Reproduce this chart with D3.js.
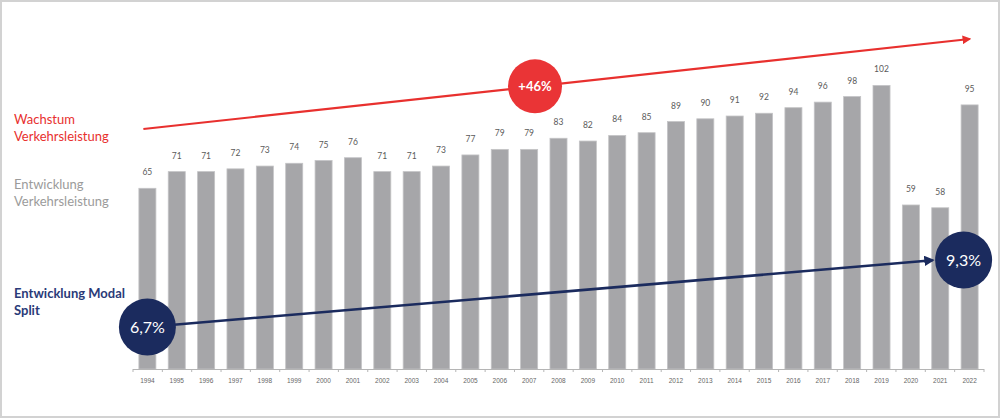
<!DOCTYPE html>
<html>
<head>
<meta charset="utf-8">
<script src="https://cdn.jsdelivr.net/npm/d3@7"></script>
<style>
  body { margin: 0; background: #fff; }
  svg { display: block; font-family: Lato, "Open Sans", sans-serif; }
  .frame { fill: none; stroke: #d2d2d2; stroke-width: 2; }
  .bar { fill: #a6a6a9; stroke: #c4c4c6; stroke-width: 0.8; }
  .val { font-size: 8.5px; fill: #5a5a5a; text-anchor: middle; }
  .axis path, .axis line { stroke: #b5b5b5; }
  .axis text { font-size: 6.5px; fill: #666; }
  .lbl { font-size: 13px; }
</style>
</head>
<body>
<svg id="chart" width="1002" height="420"></svg>
<script>
// Verkehrsleistung (index) per year
var years = [1994, 1995, 1996, 1997, 1998, 1999, 2000, 2001, 2002, 2003,
             2004, 2005, 2006, 2007, 2008, 2009, 2010, 2011, 2012, 2013,
             2014, 2015, 2016, 2017, 2018, 2019, 2020, 2021, 2022];
var values = [65, 71, 71, 72, 73, 74, 75, 76, 71, 71,
              73, 77, 79, 79, 83, 82, 84, 85, 89, 90,
              91, 92, 94, 96, 98, 102, 59, 58, 95];

// modal split start and end
var splitYears = [1994, 2022];
var splitLabels = ["6,7%", "9,3%"];
var growthLabel = "+46%";

var svg = d3.select("#chart");
var width = 1002, height = 420;

svg.append("rect")
	.attr("class", "frame")
	.attr("x", 1).attr("y", 1)
	.attr("width", width - 4).attr("height", height - 4);

var x = d3.scaleBand()
	.domain(years)
	.range([133, 984])
	.paddingInner(0.42)
	.paddingOuter(0.2);

var y = d3.scaleLinear()
	.domain([0, 100])
	.range([369, 91]);

var cx = function(yr) { return x(yr) + x.bandwidth() / 2; };

// bars
svg.append("g")
	.selectAll("rect.bar")
	.data(values)
	.enter()
	.append("rect")
		.attr("class", "bar")
		.attr("x", function(d, i) { return x(years[i]); })
		.attr("y", function(d) { return y(d); })
		.attr("width", x.bandwidth())
		.attr("height", function(d) { return y(0) - y(d); });

// value labels
svg.append("g")
	.selectAll("text.val")
	.data(values)
	.enter()
	.append("text")
		.attr("class", "val")
		.attr("x", function(d, i) { return cx(years[i]); })
		.attr("y", function(d) { return y(d) - 13; })
		.text(function(d) { return d; });

// x axis, ticks between the bars
var axis = svg.append("g")
	.attr("class", "axis")
	.attr("transform", "translate(0," + y(0) + ")")
	.call(d3.axisBottom(x).tickSize(0).tickPadding(9));
axis.select(".domain").attr("d", "M133,0.5H984");
axis.selectAll(".sep")
	.data(d3.range(years.length + 1))
	.enter()
	.append("line")
		.attr("class", "sep")
		.attr("x1", function(i) { return 133 + i * (851 / years.length); })
		.attr("x2", function(i) { return 133 + i * (851 / years.length); })
		.attr("y1", 0).attr("y2", 3);

// arrow markers
var defs = svg.append("defs");
function marker(id, color) {
	defs.append("marker")
		.attr("id", id)
		.attr("viewBox", "0 0 10 10")
		.attr("refX", 8).attr("refY", 5)
		.attr("markerWidth", 4).attr("markerHeight", 4)
		.attr("orient", "auto")
		.append("path")
			.attr("d", "M0,0L10,5L0,10Z")
			.attr("fill", color);
}
marker("arRed", "#e8302e");
marker("arBlue", "#1b2b5e");

// growth arrow
var rx1 = cx(1994) - 4, ry1 = 129, rx2 = cx(2022), ry2 = 39;
svg.append("line")
	.attr("x1", rx1).attr("y1", ry1)
	.attr("x2", rx2).attr("y2", ry2)
	.attr("stroke", "#e8302e")
	.attr("stroke-width", 2.2)
	.attr("marker-end", "url(#arRed)");

var gx = 535, gy = ry1 + (gx - rx1) / (rx2 - rx1) * (ry2 - ry1);
svg.append("circle")
	.attr("cx", gx).attr("cy", gy).attr("r", 27)
	.attr("fill", "#ea3436");
svg.append("text")
	.attr("x", gx).attr("y", gy + 4.5)
	.attr("text-anchor", "middle")
	.attr("fill", "#fff")
	.attr("font-size", 13)
	.attr("font-weight", "bold")
	.text(growthLabel);

// modal split arrow
var sx1 = cx(splitYears[0]), sy1 = 327;
var sx2 = cx(splitYears[1]) - 6, sy2 = 260;
svg.append("line")
	.attr("x1", sx1).attr("y1", sy1)
	.attr("x2", sx2 - 31).attr("y2", sy2 + 0.3)
	.attr("stroke", "#1b2b5e")
	.attr("stroke-width", 2.6)
	.attr("marker-end", "url(#arBlue)");

svg.append("g")
	.selectAll("circle.split")
	.data(splitLabels)
	.enter()
	.append("circle")
		.attr("class", "split")
		.attr("cx", function(d, i) { return i ? sx2 : sx1; })
		.attr("cy", function(d, i) { return i ? sy2 : sy1; })
		.attr("r", 28.5)
		.attr("fill", "#1b2b5e");

svg.append("g")
	.selectAll("text.split")
	.data(splitLabels)
	.enter()
	.append("text")
		.attr("class", "split")
		.attr("x", function(d, i) { return i ? sx2 : sx1; })
		.attr("y", function(d, i) { return (i ? sy2 : sy1) + 6; })
		.attr("text-anchor", "middle")
		.attr("fill", "#fff")
		.attr("font-size", 16)
		.text(function(d) { return d; });

// left side labels
function label(lines, yy, color, weight) {
	var t = svg.append("text")
		.attr("class", "lbl")
		.attr("fill", color)
		.attr("font-weight", weight);
	lines.forEach(function(l, i) {
		t.append("tspan").attr("x", 14).attr("y", yy + i * 16.5).text(l);
	});
}
label(["Wachstum", "Verkehrsleistung"], 124, "#e8302e", "normal");
label(["Entwicklung", "Verkehrsleistung"], 189, "#9b9b9b", "normal");
label(["Entwicklung Modal", "Split"], 298, "#2a3a78", "bold");
</script>
</body>
</html>
